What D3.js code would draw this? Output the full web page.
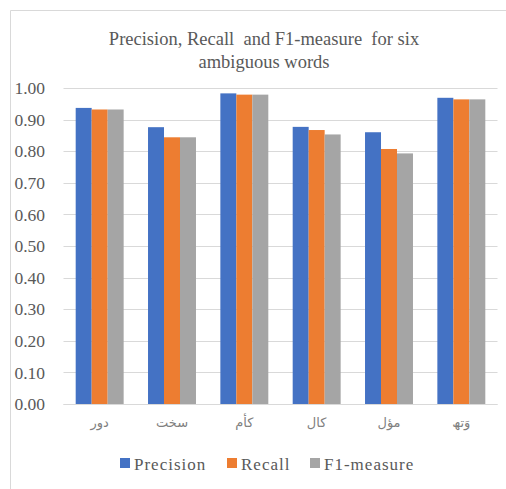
<!DOCTYPE html>
<html>
<head>
<meta charset="utf-8">
<script src="https://cdn.jsdelivr.net/npm/d3@7"></script>
<style>
  html, body { margin: 0; padding: 0; background: #fff; }
  svg { display: block; }
  .serif { font-family: "Liberation Serif", "DejaVu Serif", "Times New Roman", serif; }
</style>
</head>
<body>
<svg id="chart" width="506" height="489"></svg>
<script>
// Six ambiguous words and their scores
const words = ["دور", "سخت", "کأم", "کال", "مؤل", "وَتھ"];
const precision = [0.937, 0.876, 0.983, 0.877, 0.860, 0.969];
const recall    = [0.932, 0.844, 0.979, 0.867, 0.807, 0.964];
const f1        = [0.932, 0.844, 0.979, 0.853, 0.793, 0.964];
const seriesNames = ["Precision", "Recall", "F1-measure"];
const seriesColors = ["#4472C4", "#ED7D31", "#A5A5A5"];
const yTicks = [0, 0.1, 0.2, 0.3, 0.4, 0.5, 0.6, 0.7, 0.8, 0.9, 1.0];

const seriesValues = [precision, recall, f1];
const svg = d3.select("#chart");

// chart frame
svg.append("path")
  .attr("d", "M10.5,489 L10.5,10.5 L506,10.5")
  .attr("fill", "none")
  .attr("stroke", "#D9D9D9");

// title
const title = svg.append("text")
  .attr("class", "serif")
  .attr("text-anchor", "middle")
  .attr("font-size", 18.5)
  .attr("fill", "#595959")
  .style("white-space", "pre");
title.append("tspan").attr("x", 264).attr("y", 45).text("Precision, Recall  and F1-measure  for six");
title.append("tspan").attr("x", 264).attr("y", 68).text("ambiguous words");

const plot = { left: 63.5, right: 497.5, top: 88, bottom: 404 };

const x = d3.scaleBand().domain(words).range([plot.left, plot.right]).paddingInner(0.337).paddingOuter(0.1685);
const xs = d3.scaleBand().domain(seriesNames).range([0, x.bandwidth()]);
const y = d3.scaleLinear().domain([0, 1]).range([plot.bottom, plot.top]);

// gridlines
svg.append("g")
  .selectAll("line")
  .data(yTicks)
  .join("line")
  .attr("x1", plot.left).attr("x2", plot.right)
  .attr("y1", d => Math.round(y(d)) + 0.5).attr("y2", d => Math.round(y(d)) + 0.5)
  .attr("stroke", "#D9D9D9").attr("stroke-width", 1.2);

// y axis labels
const yAxis = d3.axisLeft(y).tickValues(yTicks).tickFormat(d3.format(".2f")).tickSize(0).tickPadding(0);
const yg = svg.append("g").attr("transform", `translate(45,0)`).call(yAxis);
yg.select(".domain").remove();
yg.selectAll("text")
  .style("font-family", "\"Liberation Serif\", \"DejaVu Serif\", serif")
  .attr("font-size", 17.5)
  .attr("fill", "#595959");

// bars
const groups = svg.append("g")
  .selectAll("g")
  .data(words)
  .join("g")
  .attr("transform", d => `translate(${x(d)},0)`);

groups.selectAll("rect")
  .data((w, i) => seriesNames.map((s, j) => ({ s, v: seriesValues[j][i], c: seriesColors[j] })))
  .join("rect")
  .attr("x", d => xs(d.s))
  .attr("width", xs.bandwidth())
  .attr("y", d => y(d.v))
  .attr("height", d => y(0) - y(d.v))
  .attr("fill", d => d.c);

// baseline
svg.append("line")
  .attr("x1", plot.left).attr("x2", plot.right)
  .attr("y1", plot.bottom + 0.5).attr("y2", plot.bottom + 0.5)
  .attr("stroke", "#D9D9D9").attr("stroke-width", 1.2);

// category labels
const xAxis = d3.axisBottom(x).tickSize(0).tickPadding(0);
const xg = svg.append("g").attr("transform", `translate(0,${plot.bottom + 14})`).call(xAxis);
xg.select(".domain").remove();
xg.selectAll("text")
  .style("font-family", "\"DejaVu Sans\", sans-serif")
  .attr("font-size", 13)
  .attr("fill", "#7F7F7F");

// legend
const legendX = [120, 227, 310];
const legend = svg.append("g")
  .selectAll("g")
  .data(seriesNames)
  .join("g")
  .attr("transform", (d, i) => `translate(${legendX[i]},458)`);
legend.append("rect")
  .attr("width", 10).attr("height", 10)
  .attr("fill", (d, i) => seriesColors[i]);
legend.append("text")
  .attr("class", "serif")
  .attr("x", 14).attr("y", 11.5)
  .attr("font-size", 17)
  .attr("letter-spacing", 1)
  .attr("fill", "#595959")
  .text(d => d);
</script>
</body>
</html>
